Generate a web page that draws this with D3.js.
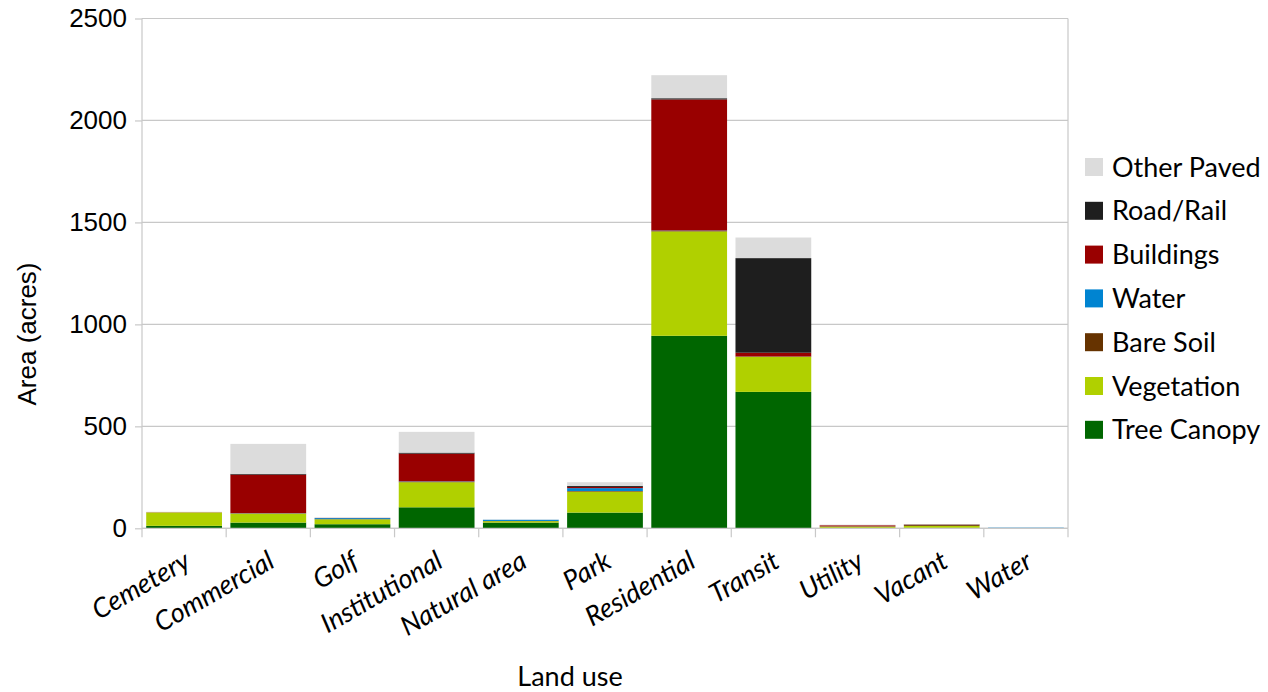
<!DOCTYPE html>
<html><head><meta charset="utf-8">
<script src="https://cdn.jsdelivr.net/npm/d3@7/dist/d3.min.js"></script>
<style>body{margin:0;background:#fff}</style>
</head><body><svg id="c" width="1268" height="692"></svg>
<script>
const categories = ["Cemetery","Commercial","Golf","Institutional","Natural area","Park","Residential","Transit","Utility","Vacant","Water"];
const seriesNames = ["Tree Canopy","Vegetation","Bare Soil","Water","Buildings","Road/Rail","Other Paved"];
const seriesColors = ["#006600","#b0d000","#663300","#0084d1","#990000","#1e1e1e","#dcdcdc"];
const treeCanopy = [12, 28, 20, 103, 28, 77, 944, 669, 2, 2, 1];
const vegetation = [66, 44, 24, 123, 7, 103, 512, 172, 6, 10, 0];
const bareSoil   = [0, 1, 1, 2, 1, 3, 2, 2, 2, 5, 0];
const water      = [0, 1, 5, 2, 6, 14, 2, 0, 0, 0, 2];
const buildings  = [1, 189, 1, 136, 0, 6, 643, 18, 5, 1, 0];
const roadRail   = [0, 4, 0, 5, 0, 5, 6, 464, 0, 1, 0];
const otherPaved = [2, 147, 2, 102, 2, 18, 113, 101, 3, 1, 0];
const yTicks = [0, 500, 1000, 1500, 2000, 2500];

const seriesValues = [treeCanopy, vegetation, bareSoil, water, buildings, roadRail, otherPaved];
const rows = categories.map((c, i) => {
  const r = {cat: c};
  seriesNames.forEach((s, j) => r[s] = seriesValues[j][i]);
  return r;
});

const svg = d3.select("#c");
const L = 142, R = 1068, T = 18.5, B = 528.3;
const x = d3.scaleBand().domain(categories).range([L, R]).paddingInner(0.1).paddingOuter(0.05);
const y = d3.scaleLinear().domain([0, 2500]).range([B, T]);

// gridlines
svg.append("g").selectAll("line").data(yTicks).join("line")
  .attr("x1", L).attr("x2", R).attr("y1", d => y(d)).attr("y2", d => y(d))
  .attr("stroke", "#c8c8c8").attr("stroke-width", 1.2);
// right border
svg.append("line").attr("x1", R).attr("x2", R).attr("y1", T).attr("y2", B)
  .attr("stroke", "#c8c8c8").attr("stroke-width", 1.2);

// stacked bars
const stack = d3.stack().keys(seriesNames)(rows);
svg.append("g").selectAll("g").data(stack).join("g")
  .attr("fill", (d, i) => seriesColors[i])
  .selectAll("rect").data(d => d).join("rect")
  .attr("x", d => x(d.data.cat))
  .attr("width", x.bandwidth())
  .attr("y", d => y(d[1]))
  .attr("height", d => Math.max(0, y(d[0]) - y(d[1])));

// y axis
const yAxis = svg.append("g").attr("transform", `translate(${L},0)`)
  .call(d3.axisLeft(y).tickValues(yTicks).tickSize(7).tickPadding(8).tickFormat(d3.format("d")));
yAxis.selectAll("line, path").attr("stroke", "#c8c8c8").attr("stroke-width", 1.2);
yAxis.select(".domain").attr("d", `M0,${T}V${B}`);
yAxis.selectAll("text").attr("font-family", "Liberation Sans, Arial, sans-serif")
  .attr("font-size", 26).attr("fill", "#000");

// x axis: baseline + ticks at category boundaries
const xg = svg.append("g");
xg.append("line").attr("x1", L).attr("x2", R).attr("y1", B).attr("y2", B)
  .attr("stroke", "#c8c8c8").attr("stroke-width", 1.2);
const bounds = d3.range(categories.length + 1).map(i => L + (R - L) * i / categories.length);
xg.selectAll("line.tk").data(bounds).join("line").attr("class", "tk")
  .attr("x1", d => d).attr("x2", d => d).attr("y1", B).attr("y2", B + 9)
  .attr("stroke", "#c8c8c8").attr("stroke-width", 1.2);
xg.selectAll("text").data(categories).join("text")
  .attr("transform", d => `translate(${x(d) + x.bandwidth() / 2 + 8},${B + 38}) rotate(-30)`)
  .attr("text-anchor", "end")
  .attr("font-family", "Lato, Carlito, sans-serif").attr("font-style", "italic")
  .attr("font-size", 27).attr("fill", "#000").text(d => d);

// axis titles
svg.append("text").attr("transform", "translate(36,334) rotate(-90)")
  .attr("text-anchor", "middle").attr("font-family", "Liberation Sans, Arial, sans-serif")
  .attr("font-size", 26).text("Area (acres)");
svg.append("text").attr("x", 570).attr("y", 686).attr("text-anchor", "middle")
  .attr("font-family", "Lato, Carlito, sans-serif").attr("font-size", 27).text("Land use");

// legend
const legendOrder = seriesNames.map((s, i) => i).reverse();
const lg = svg.append("g").selectAll("g").data(legendOrder).join("g")
  .attr("transform", (d, k) => `translate(1085,${167 + k * 43.8})`);
lg.append("rect").attr("x", 0).attr("y", -9).attr("width", 18).attr("height", 18)
  .attr("fill", d => seriesColors[d]);
lg.append("text").attr("x", 27).attr("y", 9.5).attr("font-family", "Lato, Carlito, sans-serif")
  .attr("font-size", 27).attr("fill", "#000").text(d => seriesNames[d]);
</script></body></html>
